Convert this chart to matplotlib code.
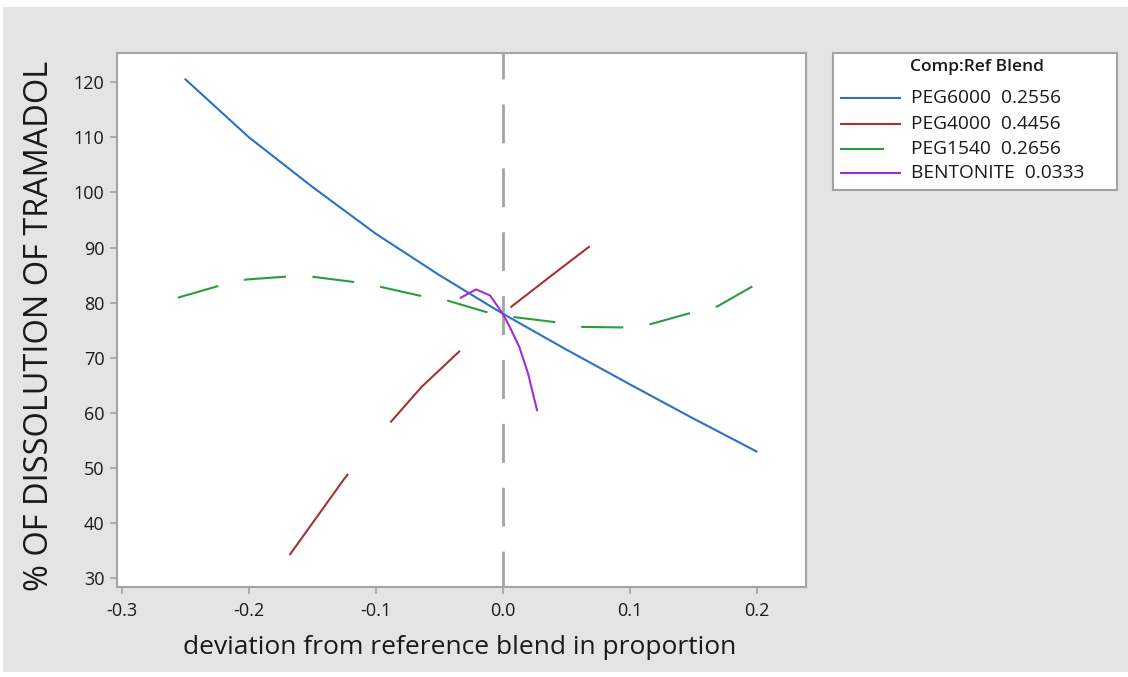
import numpy as np
import matplotlib
matplotlib.use("Agg")
import matplotlib.pyplot as plt
from matplotlib.patches import Rectangle

plt.rcParams['font.family'] = ['Open Sans', 'DejaVu Sans']
plt.rcParams['axes.unicode_minus'] = False
plt.rcParams['lines.scale_dashes'] = False

# ---- data ----
peg6000_x = [-0.25, -0.2, -0.15, -0.1, -0.05, 0.0, 0.05, 0.1, 0.15, 0.2]
peg6000_y = [120.5, 110.0, 101.0, 92.5, 85.0, 78.0, 71.5, 65.2, 59.0, 53.0]

peg4000_x = [-0.168, -0.125, -0.093, -0.064, -0.034, 0.0, 0.007, 0.04, 0.073]
peg4000_y = [34.2, 48.0, 57.1, 64.7, 71.2, 78.0, 79.3, 85.2, 91.0]

peg1540_x = [-0.256, -0.226, -0.202, -0.172, -0.15, -0.119, -0.097, -0.066, -0.044,
             -0.013, 0.008, 0.04, 0.061, 0.094, 0.115, 0.146, 0.169, 0.201]
peg1540_y = [80.9, 82.9, 84.2, 84.7, 84.7, 83.8, 82.9, 81.3, 80.4,
             78.3, 77.4, 76.5, 75.6, 75.5, 76.0, 78.0, 79.3, 83.5]

bent_x = [-0.033, -0.021, -0.01, 0.0, 0.0055, 0.013, 0.02, 0.027]
bent_y = [80.9, 82.4, 81.3, 78.0, 75.6, 72.0, 67.1, 60.5]

legend_title = "Comp:Ref Blend"
legend_names = ["PEG6000  0.2556", "PEG4000  0.4456", "PEG1540  0.2656", "BENTONITE  0.0333"]

blue = '#2a72c4'
red = '#a83232'
green = '#2a9c3a'
purple = '#a52bd6'
gray = '#a3a3a3'
txt = '#1a1a1a'

W, H = 1128, 677
fig = plt.figure(figsize=(W / 100, H / 100), dpi=100)
fig.patch.set_facecolor('white')
bg = Rectangle((3 / W, 1 - 672 / H), 1, (672 - 7) / H,
               transform=fig.transFigure, facecolor='#e4e4e4',
               edgecolor='none', zorder=-10)
fig.add_artist(bg)

ax = fig.add_axes([117 / W, 1 - 587 / H, 689 / W, 534 / H])
ax.set_facecolor('white')

ax.plot(peg6000_x, peg6000_y, color=blue, lw=1.5)
ax.plot(peg4000_x, peg4000_y, color=red, lw=1.5, ls=(0, (72, 48)))
ax.plot(peg1540_x, peg1540_y, color=green, lw=1.5, ls=(0, (30.3, 19.0)))
ax.plot(bent_x, bent_y, color=purple, lw=1.5)
ax.axvline(0, color=gray, lw=2, zorder=0, ls=(2.2, (28, 18)))

ax.set_xlim(-0.304, 0.239)
ax.set_ylim(28.4, 125.3)
ax.set_xticks([-0.3, -0.2, -0.1, 0.0, 0.1, 0.2])
ax.set_xticklabels(['-0.3', '-0.2', '-0.1', '0.0', '0.1', '0.2'])
ax.set_yticks(np.arange(30, 121, 10))
for s in ax.spines.values():
    s.set_color(gray)
    s.set_linewidth(1.5)
ax.tick_params(direction='out', length=5, width=1.2, color=gray,
               labelsize=13, labelcolor=txt, pad=4)
ax.tick_params(axis='x', pad=6)

ax.set_xlabel('deviation from reference blend in proportion', fontsize=19,
              color=txt)
ax.xaxis.set_label_coords(0.498, -0.09)
ax.set_ylabel('% OF DISSOLUTION OF TRAMADOL', fontsize=23.4, color=txt)
ax.yaxis.set_label_coords(-0.088, 0.489)

# ---- legend box drawn in pixel coords ----
lg = fig.add_axes([833 / W, 1 - 190 / H, 284 / W, 137 / H])
lg.set_xlim(0, 284)
lg.set_ylim(137, 0)
lg.set_xticks([])
lg.set_yticks([])
for s in lg.spines.values():
    s.set_color(gray)
    s.set_linewidth(1.5)
lg.text(77, 14, legend_title, fontsize=12.5, color=txt, va='center',
        fontweight='semibold')
rows_y = [45, 71, 96, 120]
colors = [blue, red, green, purple]
ends = [67, 67, 50, 67]
for yy, c, e, name in zip(rows_y, colors, ends, legend_names):
    lg.plot([8, e], [yy, yy], color=c, lw=1.5)
    lg.text(78, yy, name, fontsize=13.8, color=txt, va='center')

fig.savefig('out.png', dpi=100)
